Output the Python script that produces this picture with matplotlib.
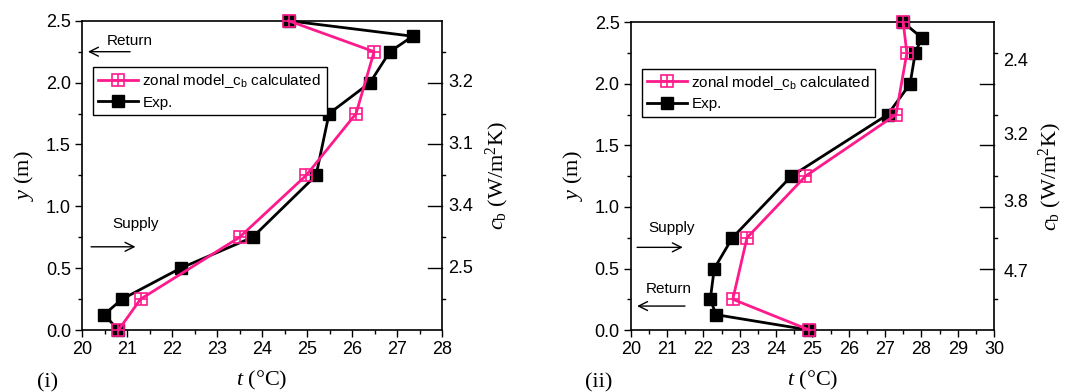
import matplotlib.pyplot as plt
from matplotlib.legend_handler import HandlerTuple
from matplotlib.lines import Line2D
from matplotlib.ticker import MultipleLocator

# (i) data
y_model_1 = [0.0, 0.25, 0.75, 1.25, 1.75, 2.25, 2.5]
t_model_1 = [20.81, 21.30, 23.50, 24.98, 26.09, 26.49, 24.59]
y_exp_1 = [0.0, 0.125, 0.25, 0.5, 0.75, 1.25, 1.75, 2.0, 2.25, 2.375, 2.5]
t_exp_1 = [20.81, 20.49, 20.89, 22.19, 23.79, 25.20, 25.49, 26.40, 26.84, 27.35, 24.59]
cb_pos_1 = [2.0, 1.5, 1.0, 0.5]
cb_labels_1 = ['3.2', '3.1', '3.4', '2.5']

# (ii) data
y_model_2 = [0.0, 0.25, 0.75, 1.25, 1.75, 2.25, 2.5]
t_model_2 = [24.92, 22.81, 23.20, 24.81, 27.30, 27.60, 27.50]
y_exp_2 = [0.0, 0.125, 0.25, 0.5, 0.75, 1.25, 1.75, 2.0, 2.25, 2.375, 2.5]
t_exp_2 = [24.92, 22.35, 22.19, 22.30, 22.80, 24.42, 27.07, 27.69, 27.83, 28.01, 27.50]
cb_pos_2 = [2.18, 1.58, 1.04, 0.47]
cb_labels_2 = ['2.4', '3.2', '3.8', '4.7']

pink = '#ff1a8c'
sans = 'Liberation Sans'
serif = 'Liberation Serif'
plt.rcParams['font.family'] = sans
plt.rcParams['mathtext.fontset'] = 'custom'
plt.rcParams['mathtext.rm'] = serif
plt.rcParams['mathtext.it'] = serif + ':italic'
plt.rcParams['mathtext.sf'] = sans

fig = plt.figure(figsize=(10.75, 3.92), dpi=100)
ax1 = fig.add_axes([0.0763, 0.158, 0.3349, 0.789])
ax2 = fig.add_axes([0.5867, 0.158, 0.3380, 0.785])


def draw_panel(ax, t_exp, y_exp, t_model, y_model, xmax, cb_pos, cb_labels, tag, lab_x, num_x):
    ax.plot(t_exp, y_exp, '-', color='black', lw=2, marker='s', ms=8,
            mfc='black', mec='black', zorder=3, clip_on=False)
    ax.plot(t_model, y_model, '-', color=pink, lw=2, marker='s', ms=8,
            mfc='none', mec=pink, mew=1.2, zorder=4, clip_on=False)
    ax.plot(t_model, y_model, ls='none', marker='+', ms=8, mec=pink, mew=1.2,
            zorder=5, clip_on=False)

    ax.set_xlim(20, xmax)
    ax.set_ylim(0, 2.5)
    ax.xaxis.set_major_locator(MultipleLocator(1))
    ax.xaxis.set_minor_locator(MultipleLocator(0.5))
    ax.yaxis.set_major_locator(MultipleLocator(0.5))
    ax.yaxis.set_minor_locator(MultipleLocator(0.25))
    ax.tick_params(axis='both', which='major', direction='out', length=5, width=1,
                   labelsize=13, pad=3)
    ax.tick_params(axis='both', which='minor', direction='out', length=3, width=1)
    ax.tick_params(right=False, top=False, which='both')
    for s in ax.spines.values():
        s.set_linewidth(1.2)

    # right axis (c_b): long inward major ticks, short outward minor ticks
    for yv in [0.5, 1.0, 1.5, 2.0]:
        ax.plot([0.962, 1.0], [yv, yv], color='black', lw=1,
                transform=ax.get_yaxis_transform(), clip_on=False)
    for yv in [0.25, 0.75, 1.25, 1.75, 2.25]:
        ax.plot([1.0, 1.007], [yv, yv], color='black', lw=1,
                transform=ax.get_yaxis_transform(), clip_on=False)
    for yv, lab in zip(cb_pos, cb_labels):
        ax.text(num_x, yv, lab, transform=ax.get_yaxis_transform(),
                fontsize=13, va='center', ha='left')

    ax.set_xlabel(r'$t$ (°C)', family=serif, fontsize=16, labelpad=8)
    ax.set_ylabel(r'$y$ (m)', family=serif, fontsize=16, labelpad=7)
    ax.text(lab_x, 0.5, r'$c_\mathrm{b}$ (W/m$^2$K)', transform=ax.transAxes,
            family=serif, fontsize=16, rotation=90, va='center', ha='center')
    ax.text(-0.125, -0.172, tag, transform=ax.transAxes, family=serif, fontsize=16,
            va='center', ha='left')

    h_model = (Line2D([], [], color=pink, lw=2, marker='s', ms=8, mfc='none', mec=pink, mew=1.2),
               Line2D([], [], ls='none', marker='+', ms=8, mec=pink, mew=1.2))
    h_exp = Line2D([], [], color='black', lw=2, marker='s', ms=8, mfc='black')
    leg = ax.legend([h_model, h_exp], [r'zonal model_c$_\mathsf{b}$ calculated', 'Exp.'],
                    handler_map={tuple: HandlerTuple(ndivide=1)},
                    loc='upper left', bbox_to_anchor=(0.03, 0.85), fontsize=11,
                    fancybox=False, edgecolor='black', framealpha=1,
                    handlelength=2.6, borderpad=0.35, labelspacing=0.35,
                    handletextpad=0.3, borderaxespad=0)
    leg.get_frame().set_linewidth(1.0)


draw_panel(ax1, t_exp_1, y_exp_1, t_model_1, y_model_1, 28, cb_pos_1, cb_labels_1,
           '(i)', 1.153, 1.017)
draw_panel(ax2, t_exp_2, y_exp_2, t_model_2, y_model_2, 30, cb_pos_2, cb_labels_2,
           '(ii)', 1.155, 1.026)

arrow = dict(arrowstyle='->', color='black', lw=1, mutation_scale=16)
# panel (i)
ax1.annotate('', xy=(20.07, 2.25), xytext=(21.13, 2.25), arrowprops=arrow)
ax1.text(21.07, 2.34, 'Return', fontsize=11, ha='center', va='center')
ax1.annotate('', xy=(21.25, 0.673), xytext=(20.14, 0.673), arrowprops=arrow)
ax1.text(21.18, 0.857, 'Supply', fontsize=11, ha='center', va='center')
# panel (ii)
ax2.annotate('', xy=(21.51, 0.672), xytext=(20.1, 0.672), arrowprops=arrow)
ax2.text(21.13, 0.826, 'Supply', fontsize=11, ha='center', va='center')
ax2.annotate('', xy=(20.1, 0.195), xytext=(21.57, 0.195), arrowprops=arrow)
ax2.text(21.06, 0.33, 'Return', fontsize=11, ha='center', va='center')

fig.savefig('out.png', dpi=100)
